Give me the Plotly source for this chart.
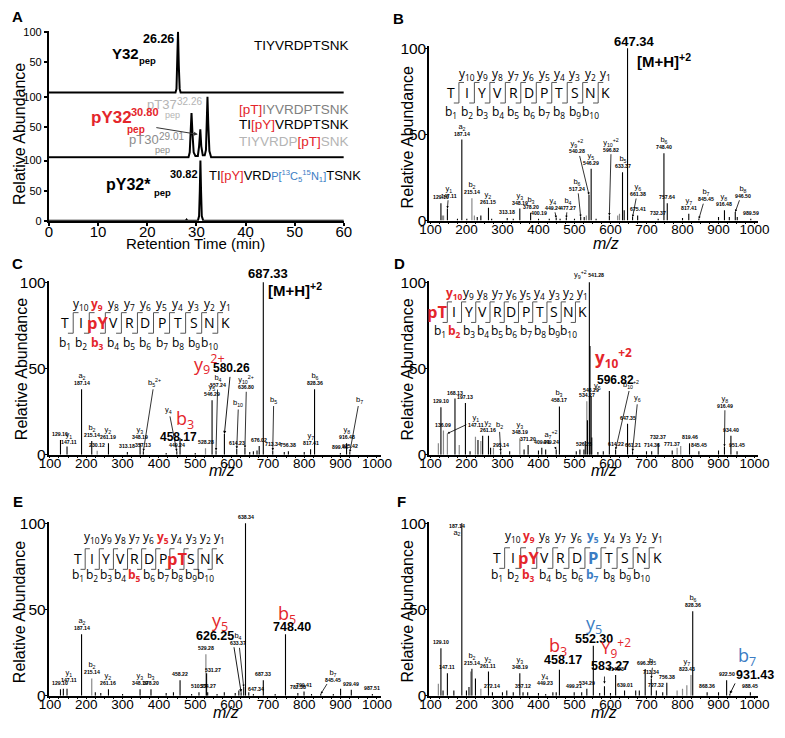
import plotly.graph_objects as go

W, H = 785, 738
RED = "#e4252b"
BLUE = "#3b7dc4"
LGRAY = "#b4b4b4"
MGRAY = "#8c8c8c"
BARGRAY = "#8a8a8a"
FONT = "Arial, 'Liberation Sans', sans-serif"
SANS2 = "'Open Sans', Arial, sans-serif"


def PX(x):
    return x / W


def PY(y):
    return 1 - y / H


# ====================== DATA ======================
A_TIME_Y32 = [0, 25.75, 25.95, 26.1, 26.26, 26.42, 26.6, 26.8, 60]
A_INT_Y32 = [0, 0, 6, 45, 100, 45, 6, 0, 0]
A_TIME_MIX = [0, 28.4, 28.65, 28.85, 29.01, 29.2, 29.45, 29.8, 30.3, 30.55, 30.8, 31.0,
              31.3, 31.7, 31.95, 32.1, 32.26, 32.42, 32.65, 33.0, 60]
A_INT_MIX = [0, 0, 8, 40, 73, 40, 8, 2, 2, 18, 46, 18, 3, 3, 12, 55, 100, 55, 10, 0, 0]
A_TIME_HEAVY = [0, 27.8, 28.0, 28.2, 30.3, 30.55, 30.7, 30.82, 30.95, 31.1, 31.4, 60]
A_INT_HEAVY = [0, 0, 2, 0, 0, 8, 50, 100, 50, 8, 0, 0]
A_XTICKS = [0, 10, 20, 30, 40, 50, 60]
SPEC_XTICKS = [100, 200, 300, 400, 500, 600, 700, 800, 900, 1000]

PEPTIDE = ["T", "I", "Y", "V", "R", "D", "P", "T", "S", "N", "K"]

B_MZ = [129.10, 133.0, 136.5, 147.11, 175.0, 187.14, 201.0, 215.14, 222.0, 230.0, 240.0,
        261.15, 270.0, 313.18, 330.0, 348.19, 378.20, 400.19, 430.0, 449.24, 460.0, 477.27,
        500.0, 517.24, 527.0, 533.0, 540.28, 546.29, 560.0, 596.82, 620.0, 625.0, 633.37,
        638.0, 647.34, 661.32, 675.41, 732.37, 748.40, 757.64, 800.0, 817.41, 845.45, 900.0,
        916.48, 930.0, 946.50, 952.0, 989.59]
B_INT = [10, 3, 3, 7, 1, 47, 1, 13, 3, 2, 3,
         7.5, 1, 1.5, 1, 7, 4.5, 1, 1, 1.5, 1, 1.5,
         1, 2, 2, 3, 15, 30, 1, 3, 3, 4, 28,
         6, 100, 2, 3, 1, 39, 10, 1.5, 4, 1, 2,
         6, 2, 5, 2, 1]
B_GRAY = [133.0, 136.5, 215.14, 222.0, 533.0, 620.0, 625.0]
B_LAB_MZ = [129.10, 147.11, 187.14, 215.14, 261.15, 313.18, 348.19, 378.20, 400.19, 449.24,
            477.27, 517.24, 540.28, 546.29, 596.82, 633.37, 661.32, 675.41, 732.37, 748.40,
            757.64, 817.41, 845.45, 916.48, 946.50, 989.59]
B_LAB_ION = ["", "y<sub>1</sub>", "a<sub>2</sub>", "b<sub>2</sub>", "y<sub>2</sub>", "", "y<sub>3</sub>",
             "b<sub>3</sub>", "", "y<sub>4</sub>", "b<sub>4</sub>", "b<sub>6</sub>", "y<sub>9</sub><sup>+2</sup>",
             "y<sub>5</sub>", "y<sub>10</sub><sup>+2</sup>", "b<sub>5</sub>", "y<sub>6</sub>", "", "",
             "b<sub>6</sub>", "", "y<sub>7</sub>", "b<sub>7</sub>", "y<sub>8</sub>", "b<sub>8</sub>", ""]
B_LAB_VAL = ["129.10", "147.11", "187.14", "215.14", "261.15", "313.18", "348.19", "378.20",
             "400.19", "449.24", "477.27", "517.24", "540.28", "546.29", "596.82", "633.37",
             "661.38", "675.41", "732.37", "748.40", "757.64", "817.41", "845.45", "916.48",
             "946.50", "989.59"]

C_MZ = [129.10, 147.11, 187.14, 215.14, 230.12, 261.16, 313.18, 348.19, 357.17, 420.0, 449.24,
        458.17, 500.0, 528.28, 546.29, 557.24, 580.26, 614.23, 636.80, 650.0, 660.0, 670.0,
        676.02, 687.33, 713.34, 745.0, 756.38, 800.0, 817.41, 828.36, 899.46, 916.48, 925.42]
C_INT = [8.5, 4.7, 38, 8, 2.3, 6.6, 1.5, 6.6, 2, 1, 2,
         9.5, 1, 3.8, 31.6, 2.5, 12, 3.5, 4, 1.5, 2, 2.5,
         5, 100, 2.5, 1.5, 2, 1.5, 3.2, 38, 1, 6.6, 1.5]
C_GRAY = [230.12, 528.28]
C_LAB_MZ = [129.10, 147.11, 187.14, 215.14, 230.12, 261.16, 313.18, 348.19, 357.17, 449.24,
            528.28, 546.29, 557.24, 614.23, 636.80, 676.02, 713.34, 756.38, 817.41, 828.36,
            899.46, 916.48, 925.42]
C_LAB_ION = ["", "y<sub>1</sub>", "a<sub>2</sub>", "b<sub>2</sub>", "", "y<sub>2</sub>", "", "y<sub>3</sub>",
             "b<sub>5</sub><sup>2+</sup>", "y<sub>4</sub>", "", "y<sub>5</sub>", "b<sub>4</sub>", "b<sub>10</sub>",
             "y<sub>10</sub><sup>2+</sup>", "", "b<sub>5</sub>", "", "y<sub>7</sub>", "b<sub>6</sub>", "",
             "y<sub>8</sub>", "b<sub>7</sub>"]
C_LAB_VAL = ["129.10", "147.11", "187.14", "215.14", "230.12", "261.19", "313.18", "348.19",
             "357.13", "449.24", "528.28", "546.29", "557.24", "614.23", "636.80", "676.02",
             "713.34", "756.38", "817.41", "828.36", "899.46", "916.48", "925.42"]

D_MZ = [122.0, 129.10, 136.09, 147.11, 168.13, 180.0, 197.13, 210.0, 225.0, 232.0, 240.0, 245.0,
        261.16, 267.0, 275.0, 295.14, 320.0, 348.19, 360.0, 371.20, 400.0, 409.21, 420.0, 449.24,
        458.17, 505.0, 515.0, 526.28, 530.0, 534.27, 536.0, 541.28, 543.0, 546.29, 548.0, 565.0,
        580.0, 596.82, 614.22, 647.35, 661.31, 700.0, 714.36, 732.37, 771.37, 785.0, 795.0,
        819.46, 845.45, 900.0, 916.49, 934.40, 951.45]
D_INT = [6.6, 27.5, 14, 12.3, 32.6, 5.7, 30, 2, 10.4, 8.5, 8, 11,
         11, 4, 4, 2, 2, 9.5, 3, 5.7, 2.5, 4, 3, 3,
         28, 2, 3, 3, 8, 31, 20, 100, 63, 34, 10, 1.5,
         2, 37, 3, 18, 2, 2, 2, 6.6, 2.5, 4, 5,
         6.6, 2, 2.5, 4.7, 11, 2]
D_GRAY = [122.0, 136.09, 147.11, 180.0, 225.0, 240.0, 275.0, 348.19, 534.27, 785.0, 795.0]
D_LAB_MZ = [129.10, 136.09, 147.11, 168.13, 197.13, 261.16, 295.14, 348.19, 371.20, 409.21,
            449.24, 458.17, 526.28, 534.27, 541.28, 546.29, 614.22, 647.35, 661.31, 714.36,
            732.37, 771.37, 819.46, 845.45, 916.49, 934.40, 951.45]
D_LAB_ION = ["", "", "y<sub>1</sub>", "", "", "y<sub>2</sub>", "b<sub>2</sub>", "y<sub>3</sub>", "", "",
             "a<sub>7</sub><sup>+2</sup>", "b<sub>3</sub>", "", "", "y<sub>9</sub><sup>+2</sup>", "y<sub>5</sub>",
             "b<sub>10</sub><sup>+2</sup>", "", "y<sub>6</sub>", "", "", "", "", "", "y<sub>8</sub>", "", ""]
D_LAB_VAL = ["129.10", "136.09", "147.11", "168.13", "197.13", "261.16", "295.14", "348.19",
             "371.20", "409.21", "449.24", "458.17", "526.28", "534.27", "541.28", "546.29",
             "614.22", "647.35", "661.21", "714.36", "732.37", "771.37", "819.46", "845.45",
             "916.49", "934.40", "951.45"]

E_MZ = [129.10, 137.0, 147.11, 187.14, 215.14, 225.0, 240.0, 261.16, 300.0, 348.19, 378.20,
        420.0, 440.0, 458.22, 490.0, 510.27, 529.28, 531.27, 534.27, 560.0, 580.0, 610.0, 620.0,
        626.25, 633.37, 638.34, 647.34, 660.0, 687.33, 720.0, 748.40, 782.38, 799.41, 820.0,
        845.45, 880.0, 900.0, 929.49, 987.51]
E_INT = [3.8, 4, 4, 35.6, 10, 2, 1.5, 3.8, 1, 3.8, 3.8,
         1.5, 2, 9, 1, 2, 24, 13, 2, 1, 2, 1.5, 3,
         2, 5, 100, 2, 1, 9, 1, 35.6, 1.5, 2.5, 1,
         1, 1, 4, 3.4, 1]
E_GRAY = [215.14, 529.28]
E_LAB_MZ = [129.10, 147.11, 187.14, 215.14, 261.16, 348.19, 378.20, 458.22, 510.27, 529.28,
            531.27, 534.27, 633.37, 638.34, 647.34, 687.33, 782.38, 799.41, 845.45, 929.49, 987.51]
E_LAB_ION = ["", "y<sub>1</sub>", "a<sub>2</sub>", "b<sub>2</sub>", "y<sub>2</sub>", "y<sub>3</sub>",
             "b<sub>3</sub>", "", "", "", "", "", "b<sub>4</sub>", "", "", "", "", "", "b<sub>7</sub>", "", ""]
E_LAB_VAL = ["129.10", "147.11", "187.14", "215.14", "261.16", "348.19", "378.20", "458.22",
             "510.27", "529.28", "531.27", "534.27", "633.37", "638.34", "647.34", "687.33",
             "782.38", "799.41", "845.45", "929.49", "987.51"]

F_MZ = [122.0, 129.10, 135.0, 147.11, 165.0, 187.14, 200.0, 207.0, 212.0, 215.14, 225.0, 240.0,
        261.16, 272.14, 300.0, 312.0, 330.0, 348.19, 357.12, 370.0, 400.0, 420.0, 440.0, 449.23,
        458.17, 499.21, 520.0, 534.29, 552.30, 570.0, 583.27, 600.0, 614.23, 639.01, 670.0,
        680.0, 696.33, 713.34, 727.32, 745.0, 756.38, 785.0, 800.0, 812.0, 823.43, 828.36,
        868.36, 900.0, 922.50, 931.43, 988.45]
F_INT = [7, 27.5, 3, 13, 3, 100, 3, 5, 14, 15.6, 10, 4,
         14, 2, 2, 3, 2, 13, 2, 2, 1.5, 1, 2, 2,
         15, 2, 2, 4, 29, 1.5, 5.5, 1.5, 12, 3, 3,
         3, 15.5, 10, 3, 2, 7.5, 3, 4, 6, 12, 49,
         2, 2, 9, 1, 2]
F_GRAY = [122.0, 212.0, 240.0, 785.0, 800.0, 812.0, 823.43]
F_LAB_MZ = [129.10, 147.11, 187.14, 215.14, 261.16, 272.14, 348.19, 357.12, 449.23, 499.21,
            534.29, 614.23, 639.01, 696.33, 713.34, 727.32, 756.38, 823.43, 828.36, 868.36,
            922.50, 988.45]
F_LAB_ION = ["", "", "a<sub>2</sub>", "b<sub>2</sub>", "y<sub>2</sub>", "", "y<sub>3</sub>", "",
             "y<sub>4</sub>", "", "", "", "", "", "b<sub>5</sub>", "", "", "y<sub>7</sub>", "b<sub>6</sub>",
             "", "", ""]
F_LAB_VAL = ["129.10", "147.11", "187.14", "215.14", "261.11", "272.14", "348.19", "357.12",
             "449.23", "499.21", "534.29", "614.23", "639.01", "696.33", "713.34", "727.32",
             "756.38", "823.43", "828.36", "868.36", "922.50", "988.45"]

# ====================== LAYOUT / STYLE ======================
B_LAB_POS = {147.11: ("both", 151, 17), 449.24: ("both", 441, 10), 477.27: ("both", 481, 10),
             517.24: ("both", 508, 21), 540.28: ("both", 508, 43), 596.82: ("both", 602, 44),
             661.32: ("both", 676, 18), 845.45: ("both", 865, 15), 946.50: ("both", 967, 17)}
C_LAB_POS = {357.17: ("ion", 387, 42), 449.24: ("ion", 427, 26), 557.24: ("both", 562, 43),
             614.23: ("ion", 619, 30), 636.80: ("both", 641, 42), 713.34: ("ion", 716, 32),
             925.42: ("ion", 952, 32), 147.11: ("free", 152, 10)}
D_LAB_POS = {147.11: ("both", 226, 20), 295.14: ("ion", 291, 17), 449.24: ("both", 434, 10),
             541.28: ("inline", 0, 0), 546.29: ("ionfree", 565, 40), 614.22: ("ion", 656, 41),
             661.31: ("ion", 676, 33), 916.49: ("both", 918, 31)}
E_LAB_POS = {633.37: ("both", 619, 33), 531.27: ("free", 549, 15), 647.34: ("free", 668, 4),
             845.45: ("both", 878, 12), 147.11: ("free", 152, 12)}
F_LAB_POS = {187.14: ("freerev", 175, 96), 449.23: ("free", 419, 10), 713.34: ("ion", 718, 20),
             823.43: ("free", 812, 18)}

SPEC = {
    "B": dict(xa="x2", ya="y4", px100=432, px1000=765, py0=218, py100=42),
    "C": dict(xa="x3", ya="y5", px100=41, px1000=377, py0=457, py100=281),
    "D": dict(xa="x4", ya="y6", px100=432, px1000=765, py0=457, py100=281),
    "E": dict(xa="x5", ya="y7", px100=41, px1000=377, py0=703, py100=527),
    "F": dict(xa="x6", ya="y8", px100=432, px1000=765, py0=703, py100=527),
}
XR = [97, 1010]
YR = [0, 101]

fig = go.Figure()
annotations = []
shapes = []
layout = dict(width=W, height=H, margin=dict(l=0, r=0, t=0, b=0), autosize=False,
              paper_bgcolor="white", plot_bgcolor="rgba(0,0,0,0)", showlegend=False,
              font=dict(family=FONT, color="black"))


def ptext(x, y, text, size=12, color="black", family=FONT, xanchor="center", yanchor="middle", **kw):
    annotations.append(dict(x=PX(x), y=PY(y), xref="paper", yref="paper", text=text, showarrow=False,
                            font=dict(size=size, color=color, family=family), xanchor=xanchor,
                            yanchor=yanchor, **kw))


def axis_common():
    return dict(showline=True, linecolor="black", showgrid=False, zeroline=False, fixedrange=True,
                ticks="outside", tickcolor="black")


layout["xaxis"] = dict(axis_common(), domain=[PX(40), PX(343)], range=[0, 60], anchor="y3",
                       linewidth=2, tickvals=A_XTICKS, ticklen=3, tickwidth=1.5,
                       tickfont=dict(size=15, family=FONT), ticklabelstandoff=-7)
A_Y = [("yaxis", 25, 89.5, [-3.5, 100.5], [50, 100]),
       ("yaxis2", 89.5, 155, [-2.8, 103.6], [50, 100]),
       ("yaxis3", 155, 218.3, [0, 102.8], [0, 50, 100])]
for name, top, bot, rng, tv in A_Y:
    layout[name] = dict(axis_common(), domain=[PY(bot), PY(top)], range=rng, anchor="x", linewidth=2,
                        tickvals=tv, ticklen=3, tickwidth=1.5, tickfont=dict(size=11, family=FONT))

for t, v, ya in [(A_TIME_Y32, A_INT_Y32, "y"), (A_TIME_MIX, A_INT_MIX, "y2"), (A_TIME_HEAVY, A_INT_HEAVY, "y3")]:
    fig.add_trace(go.Scatter(x=t, y=v, xaxis="x", yaxis=ya, mode="lines",
                             line=dict(color="black", width=2), hoverinfo="skip"))

for key in ["B", "C", "D", "E", "F"]:
    s = SPEC[key]
    sx = (s["px1000"] - s["px100"]) / 900.0
    left = s["px100"] + (XR[0] - 100) * sx
    right = s["px100"] + (XR[1] - 100) * sx
    sy = (s["py0"] - s["py100"]) / 100.0
    top = s["py0"] - YR[1] * sy
    xn = "xaxis" + s["xa"][1:]
    yn = "yaxis" + s["ya"][1:]
    layout[xn] = dict(axis_common(), domain=[PX(left), PX(right)], range=XR, anchor=s["ya"], linewidth=1.5,
                      tickvals=SPEC_XTICKS, ticklen=2, tickwidth=1, tickfont=dict(size=13.5, family=FONT),
                      ticklabelstandoff=-7,
                      minor=dict(tickmode="linear", tick0=100, dtick=25, ticks="outside", ticklen=2,
                                 tickwidth=1, tickcolor="black"))
    layout[yn] = dict(axis_common(), domain=[PY(s["py0"]), PY(top)], range=YR, anchor=s["xa"], linewidth=2,
                      tickvals=[0, 50, 100], ticklen=2, tickwidth=1, tickfont=dict(size=15.5, family=FONT),
                      ticklabelstandoff=-4)


def lab_text(ion, val):
    parts = []
    if ion:
        parts.append("<span style='font-size:7.5px'>" + ion + "</span>")
    if val:
        parts.append("<b>" + val + "</b>")
    return "<br>".join(parts)


def add_spectrum(key, mz, inten, gray, lab_mz, lab_ion, lab_val, lab_pos):
    s = SPEC[key]
    xa, ya = s["xa"], s["ya"]
    xb, yb, xg, yg = [], [], [], []
    for m, v in zip(mz, inten):
        if m in gray:
            xg += [m, m, None]
            yg += [0, v, None]
        else:
            xb += [m, m, None]
            yb += [0, v, None]
    fig.add_trace(go.Scatter(x=xg, y=yg, xaxis=xa, yaxis=ya, mode="lines",
                             line=dict(color=BARGRAY, width=1.2), hoverinfo="skip"))
    fig.add_trace(go.Scatter(x=xb, y=yb, xaxis=xa, yaxis=ya, mode="lines",
                             line=dict(color="black", width=1.1), hoverinfo="skip"))
    base = dict(xref=xa, yref=ya, font=dict(size=5.2, family=FONT, color="black"))
    arrow = dict(showarrow=True, arrowhead=2, arrowsize=0.6, arrowwidth=0.8, arrowcolor="black",
                 axref=xa, ayref=ya, standoff=0)
    for m, ion, val in zip(lab_mz, lab_ion, lab_val):
        j = min(range(len(mz)), key=lambda k: abs(mz[k] - m))
        h = inten[j]
        mode, lx, ly = lab_pos.get(m, ("direct", 0, 0))
        if mode == "direct":
            annotations.append(dict(base, x=m, y=h, text=lab_text(ion, val), showarrow=False,
                                    yanchor="bottom", yshift=1))
        elif mode == "inline":
            annotations.append(dict(base, x=m, y=h, showarrow=False, yanchor="bottom", yshift=0,
                                    text="<span style='font-size:7.5px'>" + ion + "</span> <b>" + val + "</b>"))
        elif mode == "both":
            annotations.append(dict(base, **arrow, x=m, y=h, ax=lx, ay=ly, text=lab_text(ion, val)))
        elif mode == "ion":
            annotations.append(dict(base, **arrow, x=m, y=h, ax=lx, ay=ly, text=lab_text(ion, "")))
            annotations.append(dict(base, x=m, y=h, text=lab_text("", val), showarrow=False,
                                    yanchor="bottom", yshift=1))
        elif mode == "ionfree":
            annotations.append(dict(base, x=lx, y=ly, text=lab_text(ion, ""), showarrow=False))
            annotations.append(dict(base, x=m, y=h, text=lab_text("", val), showarrow=False,
                                    yanchor="bottom", yshift=1))
        elif mode == "free":
            annotations.append(dict(base, x=lx, y=ly, text=lab_text(ion, val), showarrow=False))
        elif mode == "freerev":
            annotations.append(dict(base, x=lx, y=ly, showarrow=False,
                                    text="<b>" + val + "</b><br><span style='font-size:7.5px'>" + ion + "</span>"))


add_spectrum("B", B_MZ, B_INT, B_GRAY, B_LAB_MZ, B_LAB_ION, B_LAB_VAL, B_LAB_POS)
add_spectrum("C", C_MZ, C_INT, C_GRAY, C_LAB_MZ, C_LAB_ION, C_LAB_VAL, C_LAB_POS)
add_spectrum("D", D_MZ, D_INT, D_GRAY, D_LAB_MZ, D_LAB_ION, D_LAB_VAL, D_LAB_POS)
add_spectrum("E", E_MZ, E_INT, E_GRAY, E_LAB_MZ, E_LAB_ION, E_LAB_VAL, E_LAB_POS)
add_spectrum("F", F_MZ, F_INT, F_GRAY, F_LAB_MZ, F_LAB_ION, F_LAB_VAL, F_LAB_POS)


def data_arrow(key, x, y, ax, ay, width=0.9, size=0.7):
    s = SPEC[key]
    annotations.append(dict(x=x, y=y, ax=ax, ay=ay, xref=s["xa"], yref=s["ya"], axref=s["xa"], ayref=s["ya"],
                            text="", showarrow=True, arrowhead=2, arrowsize=size, arrowwidth=width,
                            arrowcolor="black", standoff=0))


def peptide(residues, res_col, y_col, b_col, x0, step, yl, yy, yb, first_shift=0.0):
    for i, r in enumerate(residues):
        col = res_col.get(i + 1)
        xx = x0 + i * step + (first_shift if i == 0 else 0)
        if col:
            ptext(xx, yl, "<b>" + r + "</b>", size=16.5, color=col, family=SANS2)
        else:
            ptext(xx, yl, r, size=14, family=SANS2)
    w = 0.33 * step
    top, bot = yl - 10, yl + 11
    for i in range(1, 11):
        sxp = x0 + (i - 0.5) * step
        shapes.append(dict(type="path", xref="paper", yref="paper", layer="above",
                           path="M{:.5f},{:.5f} L{:.5f},{:.5f} L{:.5f},{:.5f} L{:.5f},{:.5f}".format(
                               PX(sxp - w), PY(bot), PX(sxp), PY(bot), PX(sxp), PY(top), PX(sxp + w), PY(top)),
                           line=dict(color="#555555", width=1)))
        n = 11 - i
        c = y_col.get(n)
        t = "y<sub>%d</sub>" % n
        ptext(x0 + i * step, yy, "<b>" + t + "</b>" if c else t, size=12, color=c or "black", family=SANS2)
        c = b_col.get(i)
        t = "b<sub>%d</sub>" % i
        ptext(x0 + (i - 1) * step, yb, "<b>" + t + "</b>" if c else t, size=12, color=c or "black", family=SANS2)


def mod(seq, pos, label):
    out = list(seq)
    out[pos - 1] = label
    return out


peptide(PEPTIDE, {}, {}, {}, 453.3, 15.9, 87, 68, 107)
peptide(mod(PEPTIDE, 3, "pY"), {3: RED}, {9: RED}, {3: RED}, 56.7, 16.5, 322, 303, 343)
peptide(mod(PEPTIDE, 1, "pT"), {1: RED}, {10: RED}, {2: RED}, 442, 14.63, 311, 292, 331, first_shift=-3)
peptide(mod(PEPTIDE, 8, "pT"), {8: RED}, {5: RED}, {5: RED}, 70, 14.5, 563, 541, 580)
peptide(mod(PEPTIDE, 3, "pY"), {3: RED, 7: BLUE}, {9: RED, 5: BLUE}, {3: RED, 7: BLUE}, 500, 16.5, 562, 540, 580)

# ---------- Panel A text ----------
ptext(103, 47, "<b>Y32</b>", size=15, xanchor="left")
ptext(131, 55, "<b>pep</b>", size=9.5, xanchor="left")
ptext(135, 33, "<b>26.26</b>", size=12.5, xanchor="left")
ptext(350, 39, "TIYVRDPTSNK", size=13.5, xanchor="right")
ptext(139, 100, "pT37", size=13, color=LGRAY, xanchor="left")
ptext(157, 110, "pep", size=9, color=LGRAY, xanchor="left")
ptext(170, 96, "32.26", size=10, color=LGRAY, xanchor="left")
ptext(81, 113, "<b>pY32</b>", size=17, color=RED, xanchor="left")
ptext(118, 125, "<b>pep</b>", size=10, color=RED, xanchor="left")
ptext(122, 107, "<b>30.80</b>", size=11, color=RED, xanchor="left")
ptext(120, 135, "pT30", size=13, color=MGRAY, xanchor="left")
ptext(147, 146, "pep", size=9, color=MGRAY, xanchor="left")
ptext(151, 132, "29.01", size=10, color=MGRAY, xanchor="left")
ptext(350, 105, "<span style='color:%s'>[pT]</span>IYVRDPTSNK" % RED, size=13.5, color="#808080", xanchor="right")
ptext(350, 120, "TI<span style='color:%s'>[pY]</span>VRDPTSNK" % RED, size=13.5, xanchor="right")
ptext(350, 137, "TIYVRDP<span style='color:%s'>[pT]</span>SNK" % RED, size=13.5, color=LGRAY, xanchor="right")
ptext(97, 181, "<b>pY32*</b>", size=16, xanchor="left")
ptext(146, 189, "<b>pep</b>", size=9.5, xanchor="left")
ptext(162, 170, "<b>30.82</b>", size=11, xanchor="left")
ptext(202, 173, "TI<span style='color:%s'>[pY]</span>VRD<span style='color:%s;font-size:11px'>P[<sup>13</sup>C<sub>5</sub>"
               "<sup>15</sup>N<sub>1</sub>]</span>TSNK" % (RED, BLUE), size=13, xanchor="left")
annotations.append(dict(x=PX(193), y=PY(130), ax=150 - 193, ay=123 - 130, xref="paper", yref="paper",
                        axref="pixel", ayref="pixel", text="", showarrow=True, arrowhead=2,
                        arrowsize=0.8, arrowwidth=1, arrowcolor="#333333", standoff=0))
ptext(10, 130, "Relative Abundance", size=16, textangle=-90)
ptext(191, 241, "Retention Time (min)", size=15)

for x, y in [(408, 133), (12, 370), (408, 370), (10, 618), (408, 617)]:
    ptext(x, y, "Relative Abundance", size=16, textangle=-90)
for x, y in [(612, 241), (218, 473), (610, 473), (222, 720), (610, 720)]:
    ptext(x, y, "<i>m/z</i>", size=16)

for L, x, y in [("A", 8, 10), ("B", 399, 12), ("C", 8, 262), ("D", 400, 262), ("E", 8, 505), ("F", 402, 505)]:
    ptext(x, y, "<b>" + L + "</b>", size=15)

ptext(642, 35, "<b>647.34</b>", size=13)
ptext(672, 55, "<b>[M+H]<sup>+2</sup></b>", size=15)

ptext(265, 272, "<b>687.33</b>", size=13)
ptext(293, 288, "<b>[M+H]<sup>+2</sup></b>", size=15)
ptext(205, 364, "y<sub>9</sub><sup>2+</sup>", size=18, color=RED, family=SANS2)
ptext(228, 368, "<b>580.26</b>", size=12)
data_arrow("C", 580.26, 12, 596, 46)
ptext(180, 421, "b<sub>3</sub>", size=18, color=RED, family=SANS2)
ptext(173, 439, "<b>458.17</b>", size=12)

ptext(620, 358, "<b>y<sub>10</sub><sup>+2</sup></b>", size=17, color=RED, family=SANS2)
ptext(622, 381, "<b>596.82</b>", size=12)

ptext(216, 627, "y<sub>5</sub>", size=18, color=RED, family=SANS2)
ptext(211, 642, "<b>626.25</b>", size=12.5)
data_arrow("E", 626.25, 2, 606, 29)
ptext(285, 620, "b<sub>5</sub>", size=18, color=RED, family=SANS2)
ptext(290, 633, "<b>748.40</b>", size=12.5)

ptext(600, 630, "y<sub>5</sub>", size=18, color=BLUE, family=SANS2)
ptext(600, 645, "<b>552.30</b>", size=12.5)
ptext(563, 653, "b<sub>3</sub>", size=18, color=RED, family=SANS2)
ptext(568, 667, "<b>458.17</b>", size=12.5)
ptext(623, 654, "Y<sub>9</sub><sup>+2</sup>", size=17, color=RED, family=SANS2)
ptext(617, 673, "<b>583.27</b>", size=12.5)
data_arrow("F", 583.27, 7, 583.27, 12, width=0.8, size=0.6)
ptext(757, 663, "b<sub>7</sub>", size=18, color=BLUE, family=SANS2)
ptext(765, 682, "<b>931.43</b>", size=12.5)
data_arrow("F", 931.43, 1, 948, 8)

layout["annotations"] = annotations
layout["shapes"] = shapes
fig.update_layout(**layout)
fig.write_html("out.html", config={"displayModeBar": False},
               post_script="document.body.style.margin='0px';document.body.style.overflow='hidden';")
